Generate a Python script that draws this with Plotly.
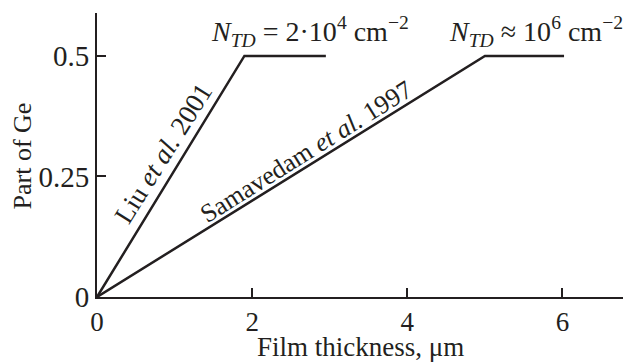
import plotly.graph_objects as go

# Data
liu_x = [0, 1.9, 2.95]
liu_y = [0, 0.5, 0.5]
sam_x = [0, 5.0, 6.02]
sam_y = [0, 0.5, 0.5]
xticks = [0, 2, 4, 6]
xtick_labels = ["0", "2", "4", "6"]
yticks = [0, 0.25, 0.5]
ytick_labels = ["0", "0.25", "0.5"]

INK = "#231f20"
FONT = "'Liberation Serif', 'Times New Roman', Times, 'DejaVu Serif', serif"

fig = go.Figure()
fig.add_trace(go.Scatter(x=liu_x, y=liu_y, mode="lines",
                         line=dict(color=INK, width=2.5), cliponaxis=False))
fig.add_trace(go.Scatter(x=sam_x, y=sam_y, mode="lines",
                         line=dict(color=INK, width=2.5), cliponaxis=False))

fig.update_layout(
    width=628, height=364,
    margin=dict(l=97, r=5, t=13, b=67),
    plot_bgcolor="white", paper_bgcolor="white",
    showlegend=False,
    font=dict(family=FONT, size=26, color=INK),
)
fig.update_xaxes(range=[0, 6.78], tickvals=xticks, ticktext=xtick_labels,
                 ticks="inside", ticklen=9, tickwidth=1.5, tickcolor=INK,
                 showline=True, linewidth=2, linecolor=INK,
                 showgrid=False, zeroline=False,
                 tickfont=dict(family=FONT, size=27, color=INK))
fig.update_yaxes(range=[0, 0.589], tickvals=yticks, ticktext=ytick_labels,
                 ticks="inside", ticklen=9, tickwidth=1.5, tickcolor=INK,
                 showline=True, linewidth=2, linecolor=INK,
                 showgrid=False, zeroline=False,
                 tickfont=dict(family=FONT, size=29, color=INK))

anns = [
    dict(x=0.86, y=0.298, xref="x", yref="y", text="Liu <i>et al.</i> 2001",
         textangle=-58, showarrow=False, size=27),
    dict(x=2.7, y=0.302, xref="x", yref="y", text="Samavedam <i>et al.</i> 1997",
         textangle=-32, showarrow=False, size=26),
    dict(x=2.74, y=0.55, xref="x", yref="y",
         text="<i>N</i><sub><i>TD</i></sub> = 2·10<sup>4</sup> cm<sup>−2</sup>",
         showarrow=False, size=28),
    dict(x=5.66, y=0.55, xref="x", yref="y",
         text="<i>N</i><sub><i>TD</i></sub> ≈ 10<sup>6</sup> cm<sup>−2</sup>",
         showarrow=False, size=28),
    dict(x=-0.142, y=0.496, xref="paper", yref="paper", text="Part of Ge",
         textangle=-90, showarrow=False, size=26),
    dict(x=0.5, y=-0.176, xref="paper", yref="paper", text="Film thickness, μm",
         showarrow=False, size=27),
]
for a in anns:
    s = a.pop("size")
    a["xanchor"] = "center"
    a["yanchor"] = "middle"
    a["font"] = dict(family=FONT, size=s, color=INK)
fig.update_layout(annotations=anns)

fig.write_html("out.html")
